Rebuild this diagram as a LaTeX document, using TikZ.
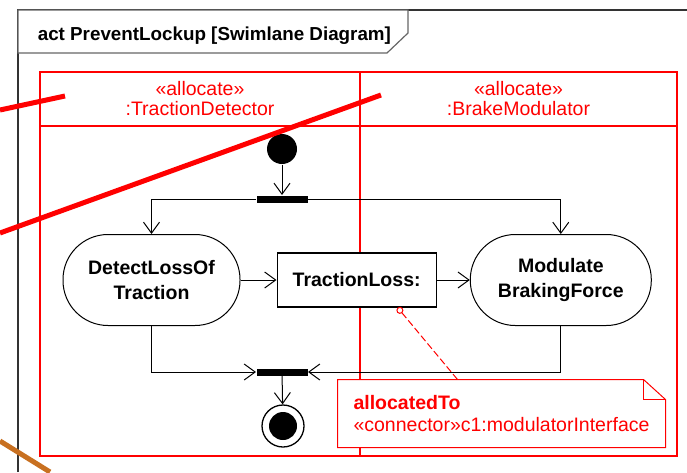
\documentclass[tikz,border=0pt]{standalone}
\usepackage{fontspec}
\setmainfont{Liberation Sans}
\usetikzlibrary{arrows.meta, positioning}
\definecolor{wire}{RGB}{200,112,32}
\tikzstyle{lanehead} = [rectangle,
			draw = red,
			text = red,
			align = center,
			outer sep = 0pt,
			line width = 1.2pt,
			minimum height = 54pt,
			font = \fontsize{19.5}{20}\selectfont]
\tikzstyle{lanebody} = [rectangle,
			draw = red,
			outer sep = 0pt,
			line width = 1.2pt,
			minimum height = 330pt]
\tikzstyle{action} = [rectangle,
			draw,
			fill = white,
			rounded corners = 45pt,
			align = center,
			minimum width = 177pt,
			minimum height = 91pt,
			font = \bfseries\fontsize{19.5}{25}\selectfont]
\tikzstyle{object} = [rectangle,
			draw,
			fill = white,
			line width = 1.3pt,
			text centered,
			minimum width = 159pt,
			minimum height = 54pt,
			font = \bfseries\fontsize{19.5}{25}\selectfont]
\tikzstyle{bar} = [rectangle,
			fill = black,
			inner sep = 0pt,
			minimum width = 51pt,
			minimum height = 7pt]
\tikzstyle{initial} = [circle,
			fill = black,
			inner sep = 0pt,
			minimum size = 30pt]
\tikzstyle{final} = [circle,
			draw,
			fill = white,
			line width = 1.3pt,
			inner sep = 0pt,
			minimum size = 42pt,
			path picture = {\fill [black] (path picture bounding box.center) circle (14pt);}]
\tikzstyle{note} = [rectangle,
			text = red,
			align = left,
			minimum width = 327pt,
			minimum height = 67pt,
			font = \fontsize{19.5}{22}\selectfont]

\begin{document}
\begin{tikzpicture}[x = 1pt, y = -1pt, line width = 1pt,
		>= {Straight Barb[length = 11pt, width = 16pt]}]
	\useasboundingbox (0,0) rectangle (687,472);
	\clip (0,0) rectangle (687,472);
	% diagram frame
	\draw [line width = 1.6pt, black!80] (18,472) -- (18,10) -- (687,10);
	\draw [fill = white, draw = black!60, line width = 1.2pt]
		(18,53) -- (18,10) -- (408,10) -- (408,33) -- (387,53) -- cycle;
	\node [anchor = base west, font = \bfseries\fontsize{18.8}{22}\selectfont]
		(title) at (34,40) {act PreventLockup [Swimlane Diagram]};
	% swimlanes
	\node [lanehead, minimum width = 320pt] (tdhead) at (200,99) {«allocate»\\:TractionDetector};
	\node [lanebody, minimum width = 320pt, below = 0pt of tdhead] (tdlane) {};
	\node [lanehead, minimum width = 317pt, right = 0pt of tdhead] (bmhead) {«allocate»\\:BrakeModulator};
	\node [lanebody, minimum width = 317pt, below = 0pt of bmhead] (bmlane) {};
	% activity
	\node [initial] (start) at (282,149) {};
	\node [bar] (fork) at (282,199) {};
	\node [action] (detect) at (151.5,280) {DetectLossOf\\Traction};
	\node [object, right = 36pt of detect] (loss) {TractionLoss:};
	\node [action, minimum width = 181pt, right = 33pt of loss] (modulate) {Modulate\\BrakingForce};
	\node [bar] (join) at (282,372) {};
	\node [final] (stop) at (283,426) {};
	\draw [->] (start) -- (fork);
	\draw [->] (fork.west) -| (detect);
	\draw [->] (fork.east) -| (modulate);
	\draw [->] (detect) -- (loss);
	\draw [->] (loss) -- (modulate);
	\draw [->] (detect) |- (join.west);
	\draw [->] (modulate) |- (join.east);
	\draw [->] (join) -- (stop);
	% allocation note
	\node [note] (alloc) at (501.5,413.5) {};
	\draw [red, fill = white] (alloc.north west) -- ([xshift = -22pt]alloc.north east)
		-- ([yshift = -20pt]alloc.north east) -- (alloc.south east) -- (alloc.south west) -- cycle;
	\draw [red] ([xshift = -22pt]alloc.north east) |- ([yshift = -20pt]alloc.north east);
	\node [note] (alloctext) at (alloc) {\textbf{allocatedTo}\\«connector»c1:modulatorInterface};
	\draw [red, dash pattern = on 7pt off 3pt, {Circle[open, length = 7pt]}-]
		([xshift = 41pt]loss.south) -- ([xshift = -44pt]alloc.north);
	% crossing wires
	\draw [red, line width = 5pt] (0,110) -- (65,96);
	\draw [red, line width = 5pt] (0,233) -- (381,95);
	\draw [wire, line width = 5pt] (0,441) -- (50,472);
\end{tikzpicture}
\end{document}
